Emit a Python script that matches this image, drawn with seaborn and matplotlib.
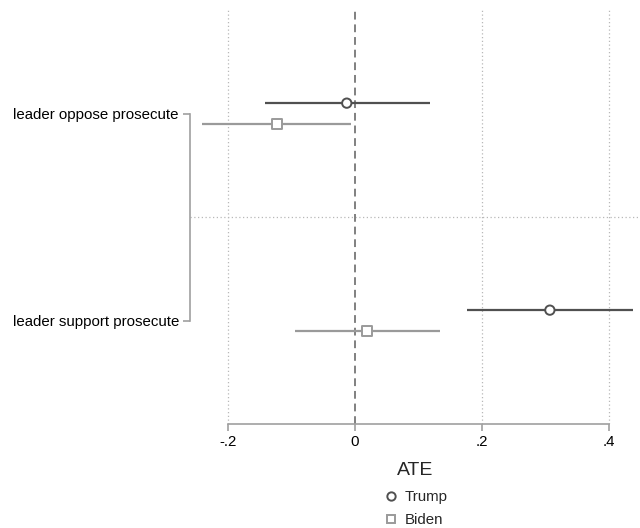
import numpy as np
import pandas as pd
import matplotlib
matplotlib.use("Agg")
import matplotlib.pyplot as plt
import seaborn as sns
from matplotlib.lines import Line2D

# values
groups = ["leader oppose prosecute", "leader support prosecute"]
leaders = ["Trump", "Biden"]
trump_ate = [-0.013, 0.307]
trump_lo = [-0.142, 0.176]
trump_hi = [0.118, 0.438]
biden_ate = [-0.123, 0.019]
biden_lo = [-0.241, -0.094]
biden_hi = [-0.006, 0.134]
xticks = [-0.2, 0, 0.2, 0.4]
xticklabels = ["-.2", "0", ".2", ".4"]

colors = {"Trump": "#505050", "Biden": "#9a9a9a"}
markers = {"Trump": "o", "Biden": "s"}
offsets = {"Trump": -0.05, "Biden": 0.05}

rows = []
for i, g in enumerate(groups):
    rows.append(dict(group=g, leader="Trump", ate=trump_ate[i], lo=trump_lo[i], hi=trump_hi[i]))
    rows.append(dict(group=g, leader="Biden", ate=biden_ate[i], lo=biden_lo[i], hi=biden_hi[i]))
df = pd.DataFrame(rows)
df["pos"] = df["group"].map({g: i for i, g in enumerate(groups)}) + df["leader"].map(offsets)

sns.set_style("white")
plt.rcParams["font.family"] = ["Liberation Sans", "DejaVu Sans"]

fig = plt.figure(figsize=(6.4, 5.28), dpi=100)
ax = fig.add_axes([190 / 640, 1 - 424 / 528, 1 - 190 / 640, (424 - 10) / 528])

# grid and reference lines
for t in xticks:
    if t == 0:
        continue
    ax.axvline(t, color="#b8b8b8", lw=0.9, ls=(0, (1, 2)), zorder=0)
ax.axhline(0.5, color="#b8b8b8", lw=0.9, ls=(0, (1, 2)), zorder=0)
ax.axvline(0, color="#808080", lw=1.4, ls=(0, (4, 2.5)), zorder=1)

# confidence intervals
for _, r in df.iterrows():
    ax.hlines(r["pos"], r["lo"], r["hi"], color=colors[r["leader"]], lw=1.6, zorder=2)

sns.scatterplot(data=df, x="ate", y="pos", hue="leader", style="leader",
                palette=colors, markers=markers, ax=ax, s=45,
                facecolor="none", linewidth=1.4, legend=False, zorder=3)
# hollow markers with coloured edges
coll = ax.collections[-1]
coll.set_edgecolors([colors[l] for l in df["leader"]])
coll.set_facecolors("white")

ax.set_xlim(-0.26, 0.449)
ax.set_ylim(1.5, -0.5)
ax.set_xticks(xticks)
ax.set_xticklabels(xticklabels)
ax.set_yticks(range(len(groups)))
ax.set_yticklabels(groups)

for s in ["top", "right"]:
    ax.spines[s].set_visible(False)
ax.spines["bottom"].set_bounds(xticks[0], xticks[-1])
ax.spines["left"].set_bounds(0, len(groups) - 1)
for s in ["bottom", "left"]:
    ax.spines[s].set_color("#a0a0a0")
    ax.spines[s].set_linewidth(1.2)
ax.tick_params(axis="both", direction="out", length=5, width=1.2, bottom=True, left=True,
               color="#a0a0a0", labelsize=10.8, labelcolor="black")
ax.tick_params(axis="x", pad=3)
ax.tick_params(axis="y", pad=3)

ax.set_xlabel("ATE", fontsize=14, labelpad=9)
ax.set_ylabel("")

handles = [Line2D([], [], ls="none", marker=markers[l], markersize=6,
                  markerfacecolor="white", markeredgecolor=colors[l],
                  markeredgewidth=1.4, label=l) for l in leaders]
fig.legend(handles=handles, loc="upper center", bbox_to_anchor=(415 / 640, 1 - 481 / 528),
           frameon=False, fontsize=10.8, handletextpad=0.3, labelspacing=0.62,
           handlelength=1.2, borderpad=0.1)

fig.savefig("out.png", dpi=100)
